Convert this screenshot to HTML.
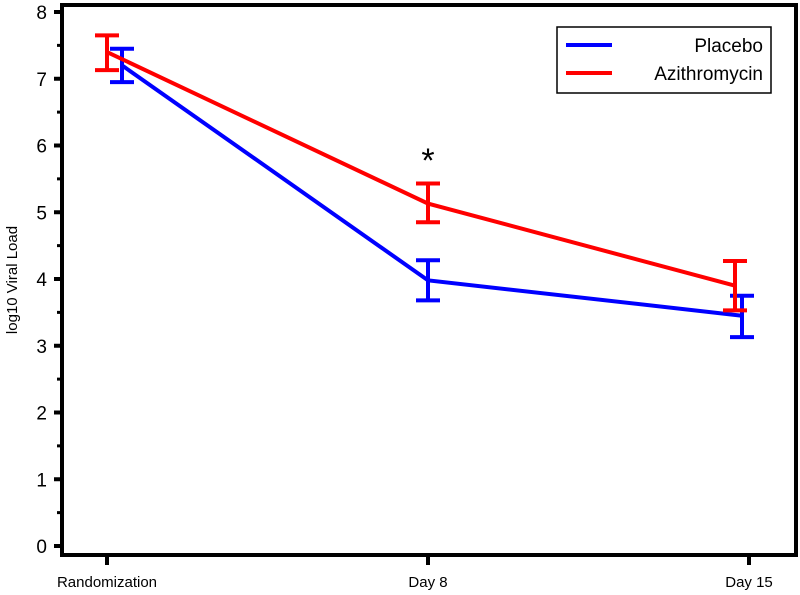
<!DOCTYPE html>
<html><head><style>body{margin:0;background:#fff}svg{display:block;font-family:"Liberation Sans",Arial,sans-serif}</style></head>
<body>
<svg id="c" width="800" height="595"></svg>
<script>
const categories=["Randomization","Day 8","Day 15"];
const placeboMean=[7.2,3.98,3.45];
const placeboLow=[6.95,3.68,3.13];
const placeboHigh=[7.45,4.28,3.75];
const azithroMean=[7.4,5.13,3.9];
const azithroLow=[7.13,4.85,3.53];
const azithroHigh=[7.65,5.43,4.27];
const yTicks=[0,1,2,3,4,5,6,7,8];
const NS="http://www.w3.org/2000/svg",svg=document.getElementById('c');
const xPos=i=>107+i*321;
const y=v=>546-66.75*v;
function el(t,a,p){const e=document.createElementNS(NS,t);for(const k in a)e.setAttribute(k,a[k]);(p||svg).appendChild(e);return e;}
const frame=el('rect',{x:62,y:5,width:734,height:550,fill:'none',stroke:'#000','stroke-width':4});


yTicks.forEach(v=>{
 const t=el('line',{x1:54,x2:62,y1:y(v),y2:y(v),stroke:'#000','stroke-width':4});
 
 
 if(v<8){const m=el('line',{x1:57,x2:62,y1:y(v+0.5),y2:y(v+0.5),stroke:'#000','stroke-width':3});
 
 }
 const l=el('text',{x:47,y:y(v)+7,'text-anchor':'end','font-size':19});l.textContent=v;
 
 
});
categories.forEach((c,i)=>{
 const t=el('line',{x1:xPos(i),x2:xPos(i),y1:555,y2:565,stroke:'#000','stroke-width':4});
 
 
 const l=el('text',{x:xPos(i),y:587,'text-anchor':'middle','font-size':15});l.textContent=c;
 
 
});
const yt=el('text',{transform:'translate(17,280) rotate(-90)','text-anchor':'middle','font-size':15});yt.textContent='log10 Viral Load';


function series(mean,lo,hi,color,off,name){
 const pts=mean.map((v,i)=>(xPos(i)+off[i])+','+y(v)).join(' ');
 const pl=el('polyline',{points:pts,fill:'none',stroke:color,'stroke-width':4});
 
 
 mean.forEach((v,i)=>{
  const x=xPos(i)+off[i],g=el('g',{stroke:color,'stroke-width':4});
  
  
  el('line',{x1:x,x2:x,y1:y(lo[i]),y2:y(hi[i])},g);
  el('line',{x1:x-12,x2:x+12,y1:y(lo[i]),y2:y(lo[i])},g);
  el('line',{x1:x-12,x2:x+12,y1:y(hi[i]),y2:y(hi[i])},g);
 });
}
series(placeboMean,placeboLow,placeboHigh,'#0000ff',[15,0,-7],'placebo');
series(azithroMean,azithroLow,azithroHigh,'#ff0000',[0,0,-14],'azithromycin');
const st=el('text',{x:428,y:172,'text-anchor':'middle','font-size':34});st.textContent='*';


const lg=el('g',{});


el('rect',{x:557,y:27,width:214,height:66,fill:'#fff',stroke:'#000','stroke-width':1.5},lg);
el('line',{x1:566,x2:612,y1:45,y2:45,stroke:'#0000ff','stroke-width':4},lg);
el('line',{x1:566,x2:612,y1:73,y2:73,stroke:'#ff0000','stroke-width':4},lg);
const a=el('text',{x:763,y:52,'text-anchor':'end','font-size':19},lg);a.textContent='Placebo';


const b=el('text',{x:763,y:80,'text-anchor':'end','font-size':19},lg);b.textContent='Azithromycin';


</script>
</body></html>
